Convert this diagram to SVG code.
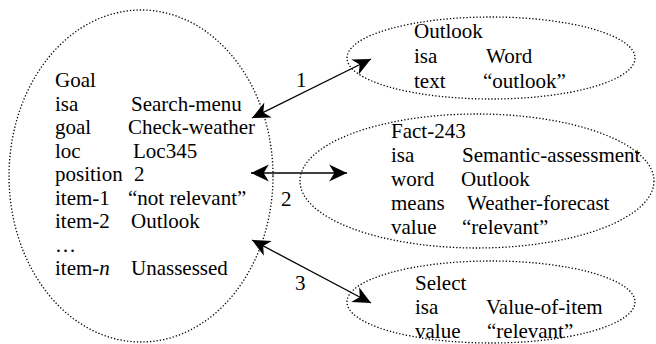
<svg xmlns="http://www.w3.org/2000/svg" width="656" height="344" viewBox="0 0 656 344">
<style>
.ell{fill:none;stroke:#000;stroke-width:1.3;stroke-dasharray:1.3 2}
.con{stroke:#000;stroke-width:1.3;fill:none}
</style>
<defs>
<marker id="ah" markerUnits="userSpaceOnUse" markerWidth="20" markerHeight="20" viewBox="-18 -9 19 18" refX="0" refY="0" orient="auto-start-reverse">
<path d="M0,0 L-17,-8 L-12,0 L-17,8 Z" fill="#000"/>
</marker>
</defs>
<rect width="656" height="344" fill="#fff"/>
<g font-family="Liberation Serif, Times New Roman, DejaVu Serif, serif" font-size="21" fill="#000">
<g id="goal">
<ellipse class="ell" cx="141" cy="176" rx="132" ry="166"/>
<text x="55" y="87">Goal</text>
<text x="55" y="110.5">isa</text><text x="131" y="110.5">Search-menu</text>
<text x="55" y="134">goal</text><text x="128" y="134">Check-weather</text>
<text x="55" y="157.5">loc</text><text x="133" y="157.5">Loc345</text>
<text x="55" y="181">position</text><text x="134" y="181">2</text>
<text x="55" y="204.5">item-1</text><text x="128" y="204.5">“not relevant”</text>
<text x="55" y="228">item-2</text><text x="131" y="228">Outlook</text>
<text x="55" y="251.5">…</text>
<text x="55" y="275">item-<tspan font-style="italic">n</tspan></text><text x="131" y="275">Unassessed</text>
</g>
<g id="outlook">
<ellipse class="ell" cx="491" cy="58" rx="144" ry="41"/>
<text x="414" y="38">Outlook</text>
<text x="414" y="63">isa</text><text x="486" y="63">Word</text>
<text x="414" y="88">text</text><text x="483" y="88">“outlook”</text>
</g>
<g id="fact243">
<ellipse class="ell" cx="477" cy="181" rx="177" ry="67"/>
<text x="391" y="137.5">Fact-243</text>
<text x="391" y="162">isa</text><text x="462" y="162">Semantic-assessment</text>
<text x="391" y="186">word</text><text x="461" y="186">Outlook</text>
<text x="391" y="210">means</text><text x="467" y="210">Weather-forecast</text>
<text x="391" y="234">value</text><text x="462" y="234">“relevant”</text>
</g>
<g id="select">
<ellipse class="ell" cx="491" cy="302" rx="144" ry="41"/>
<text x="415" y="290">Select</text>
<text x="415" y="314">isa</text><text x="486" y="314">Value-of-item</text>
<text x="415" y="338">value</text><text x="487" y="338">“relevant”</text>
</g>
<g id="connectors">
<line class="con" x1="252" y1="118" x2="371" y2="59" marker-start="url(#ah)" marker-end="url(#ah)"/>
<line class="con" x1="251" y1="173" x2="347" y2="173" marker-start="url(#ah)" marker-end="url(#ah)"/>
<line class="con" x1="252" y1="240" x2="371" y2="303" marker-start="url(#ah)" marker-end="url(#ah)"/>
<text x="296" y="87">1</text>
<text x="281" y="206">2</text>
<text x="295" y="290">3</text>
</g>
</g>
</svg>
